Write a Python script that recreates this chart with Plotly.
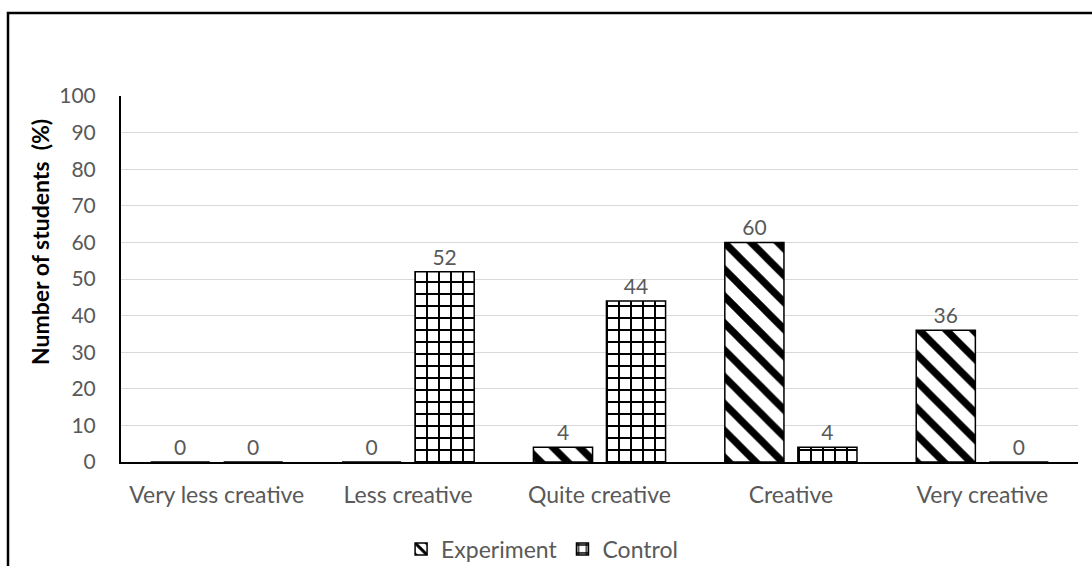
import plotly.graph_objects as go

categories = ["Very less creative", "Less creative", "Quite creative", "Creative", "Very creative"]
experiment = [0, 0, 4, 60, 36]
control = [0, 52, 44, 4, 0]
y_ticks = list(range(0, 101, 10))

W, H = 1092, 566
ML, MR, MT, MB = 121, 14, 96, 104
pw, ph = W - ML - MR, H - MT - MB

def px2paper(x, y):
    return (x - ML) / pw, (H - MB - y) / ph

FONT = "Lato, 'Open Sans', sans-serif"
GRAY = "#595959"

fig = go.Figure()
fig.add_bar(
    x=categories, y=experiment, name="Experiment",
    marker=dict(color="white", line=dict(color="black", width=1.5),
                pattern=dict(shape="\\", fgcolor="#000000", bgcolor="white", fgopacity=1,
                             fillmode="replace", size=19, solidity=0.38)),
    text=[str(v) for v in experiment], textposition="outside",
    textfont=dict(family=FONT, size=21, color=GRAY), cliponaxis=False,
)
fig.add_bar(
    x=categories, y=control, name="Control",
    marker=dict(color="white", line=dict(color="black", width=1.5),
                pattern=dict(shape="+", fgcolor="#000000", bgcolor="white", fgopacity=1,
                             fillmode="replace", size=12, solidity=0.3)),
    text=[str(v) for v in control], textposition="outside",
    textfont=dict(family=FONT, size=21, color=GRAY), cliponaxis=False,
)

x0, y0 = px2paper(8, 13)
x1, y1 = px2paper(1110, 600)
fig.add_shape(type="rect", xref="paper", yref="paper", x0=x0, y0=y1, x1=x1, y1=y0,
              line=dict(color="black", width=2.5), fillcolor="rgba(0,0,0,0)", layer="below")

tx, ty = px2paper(40, 242)
fig.add_annotation(text="<b>Number of students  (%)</b>", xref="paper", yref="paper",
                   x=tx, y=ty, textangle=-90, showarrow=False, xanchor="center", yanchor="middle",
                   font=dict(family=FONT, size=23, color="black"))

fig.update_layout(
    width=W, height=H,
    margin=dict(l=ML, r=MR, t=MT, b=MB, autoexpand=False),
    paper_bgcolor="white", plot_bgcolor="white",
    barmode="group", bargap=0.237, bargroupgap=0.19,
    font=dict(family=FONT, size=21, color=GRAY),
    showlegend=True,
    legend=dict(orientation="h", x=0.44, xanchor="center", yref="container", y=(566 - 549) / 566,
                yanchor="middle", font=dict(family=FONT, size=23, color=GRAY), itemwidth=30,
                bgcolor="rgba(0,0,0,0)"),
    xaxis=dict(showline=True, linecolor="black", linewidth=2, ticks="",
               tickfont=dict(family=FONT, size=23, color=GRAY), ticklabelstandoff=11,
               showgrid=False, zeroline=False, automargin=False),
    yaxis=dict(range=[0, 100], tickvals=y_ticks, showline=True, linecolor="black", linewidth=2,
               showgrid=True, gridcolor="#d9d9d9", gridwidth=1, zeroline=False, ticks="",
               tickfont=dict(family=FONT, size=21, color=GRAY), ticklabelstandoff=19,
               automargin=False),
)

fig.write_html("out.html")
